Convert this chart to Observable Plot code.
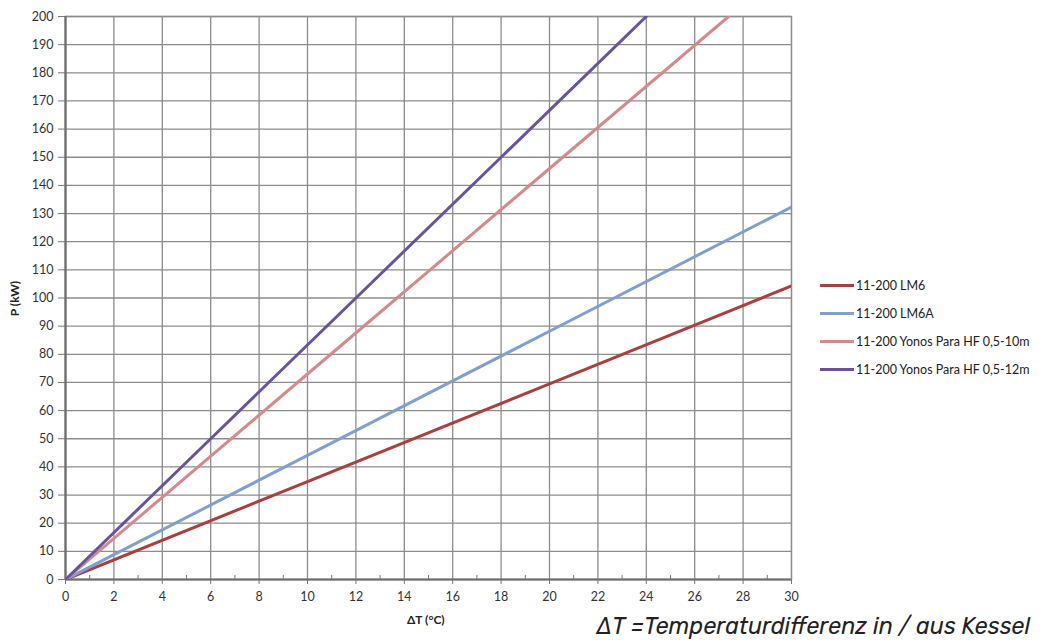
<!DOCTYPE html>
<html>
<head>
<meta charset="utf-8">
<script src="https://cdn.jsdelivr.net/npm/d3@7"></script>
<script src="https://cdn.jsdelivr.net/npm/@observablehq/plot@0.6"></script>
<style>
  html, body { margin: 0; padding: 0; background: #fff; }
  #wrap { position: relative; width: 1044px; height: 644px; overflow: hidden; }
  #legend { position: absolute; left: 820px; top: 271px; font-family: Lato, "Noto Sans", sans-serif; font-size: 12.5px; color: #222; }
  #legend .row { display: flex; align-items: center; height: 28px; }
  #legend .sw { width: 34px; height: 3px; margin-right: 2px; }
  #caption { position: absolute; left: 596px; top: 611px; font-family: Rubik, Inter, Roboto, sans-serif; font-style: italic; font-size: 23.4px; color: #222; white-space: nowrap; }
  .xlab { position: absolute; font-family: Lato, sans-serif; font-weight: bold; font-size: 12px; color: #222; }
</style>
</head>
<body>
<div id="wrap"></div>
<script>
// Data
const seriesNames = ["11-200 LM6", "11-200 LM6A", "11-200 Yonos Para HF 0,5-10m", "11-200 Yonos Para HF 0,5-12m"];
const seriesColors = ["#a8403f", "#7f9fcf", "#d48a8a", "#6a539e"];
const dT_LM6 = [0, 10, 20, 30];
const P_LM6 = [0, 34.8, 69.5, 104.3];
const dT_LM6A = [0, 10, 20, 30];
const P_LM6A = [0, 44.1, 88.2, 132.3];
const dT_Y10 = [0, 10, 20, 27.4];
const P_Y10 = [0, 73, 146, 200];
const dT_Y12 = [0, 6, 12, 18, 24];
const P_Y12 = [0, 50, 100, 150, 200];
const xMajorTicks = d3.range(0, 31, 2);
const xMinorTicks = d3.range(1, 30, 2);
const yTicks = d3.range(0, 201, 10);

const xs = [dT_LM6, dT_LM6A, dT_Y10, dT_Y12];
const ys = [P_LM6, P_LM6A, P_Y10, P_Y12];
const data = [];
seriesNames.forEach((name, i) => {
  xs[i].forEach((x, j) => data.push({series: name, dT: x, P: ys[i][j]}));
});

const font = "Lato, 'Noto Sans', sans-serif";
const chart = Plot.plot({
  width: 1044,
  height: 644,
  marginLeft: 65,
  marginRight: 253,
  marginTop: 16,
  marginBottom: 65,
  style: {fontFamily: font, fontSize: "12.5px", color: "#333", background: "transparent"},
  x: {domain: [0, 30]},
  y: {domain: [0, 200]},
  color: {domain: seriesNames, range: seriesColors},
  marks: [
    Plot.gridX(xMajorTicks, {stroke: "#8c8c8c", strokeOpacity: 1, strokeWidth: 1.3}),
    Plot.gridY(yTicks, {stroke: "#8c8c8c", strokeOpacity: 1, strokeWidth: 1.3}),
    Plot.frame({stroke: "#8c8c8c", strokeWidth: 1.3}),
    Plot.axisY(yTicks, {tickSize: 7, tickPadding: 5, stroke: "#777", label: null, fill: "#333"}),
    Plot.axisX(xMajorTicks, {tickSize: 5, tickPadding: 8, stroke: "#777", label: null, fill: "#333"}),
    Plot.axisX(xMinorTicks, {tickSize: -4, text: null, stroke: "#777", label: null}),
    Plot.ruleX([0], {stroke: "#6e6e6e", strokeWidth: 2.2}),
    Plot.ruleY([0], {stroke: "#6e6e6e", strokeWidth: 2.2}),
    Plot.line(data, {x: "dT", y: "P", z: "series", stroke: "series", strokeWidth: 3, clip: true})
  ]
});
const wrap = document.getElementById("wrap");
wrap.appendChild(chart);

// Axis labels
const xl = document.createElement("div");
xl.className = "xlab";
xl.textContent = "ΔT (°C)";
xl.style.left = "407px"; xl.style.top = "612px";
wrap.appendChild(xl);
const yl = document.createElement("div");
yl.className = "xlab";
yl.textContent = "P (kW)";
yl.style.left = "-3px"; yl.style.top = "291px";
yl.style.transform = "rotate(-90deg)";
wrap.appendChild(yl);

// Legend
const lg = document.createElement("div");
lg.id = "legend";
seriesNames.forEach((n, i) => {
  const r = document.createElement("div"); r.className = "row";
  const s = document.createElement("div"); s.className = "sw"; s.style.background = seriesColors[i];
  const t = document.createElement("span"); t.textContent = n;
  r.appendChild(s); r.appendChild(t); lg.appendChild(r);
});
wrap.appendChild(lg);

// Caption
const cap = document.createElement("div");
cap.id = "caption";
cap.textContent = "ΔT =Temperaturdifferenz in / aus Kessel";
wrap.appendChild(cap);
</script>
</body>
</html>
